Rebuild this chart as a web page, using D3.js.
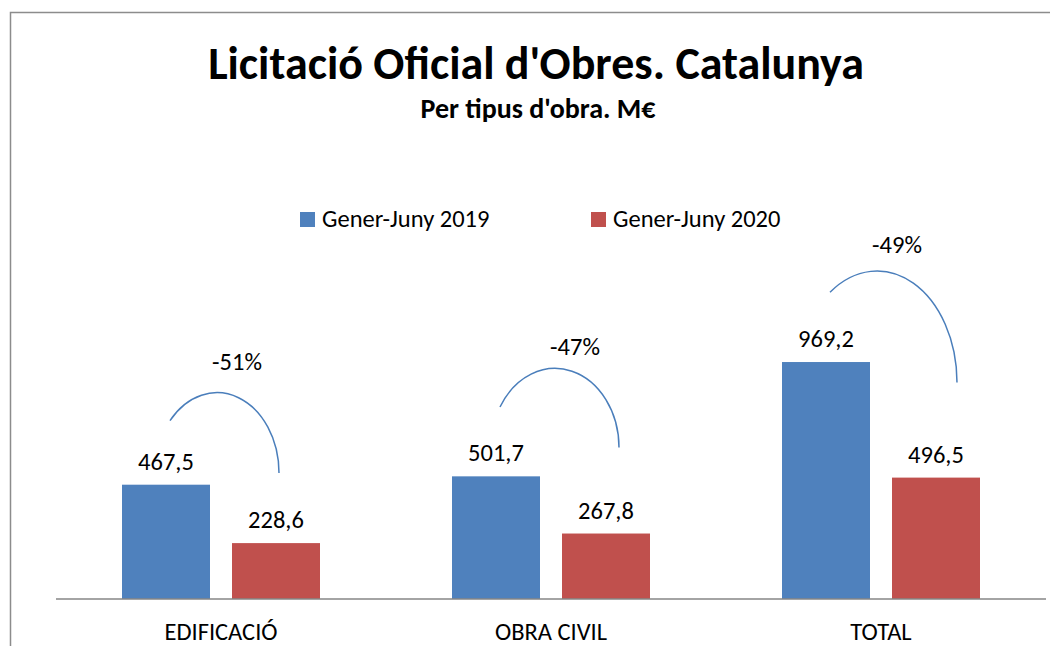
<!DOCTYPE html>
<html>
<head>
<meta charset="utf-8">
<script src="https://cdn.jsdelivr.net/npm/d3@7"></script>
<style>
  body { margin: 0; background: #fff; }
  svg text { font-family: Carlito, Calibri, Lato, sans-serif; fill: #000; }
</style>
</head>
<body>
<svg id="chart" width="1050" height="646"></svg>
<script>
// Data
const categories = ["EDIFICACIÓ", "OBRA CIVIL", "TOTAL"];
const seriesNames = ["Gener-Juny 2019", "Gener-Juny 2020"];
const values2019 = [467.5, 501.7, 969.2];
const values2020 = [228.6, 267.8, 496.5];
const changeLabels = ["-51%", "-47%", "-49%"];

const svg = d3.select("#chart");

const colors = {
    s2019: "#4F81BD",
    s2020: "#C0504D",
    arc: "#4A7EBB",
    axis: "#868686",
    frame: "#8C8C8C"
};

const fmt = v => d3.format(".1f")(v).replace(".", ",");

// chart frame (runs off the right/bottom edge like the screenshot)
svg.append("rect")
    .attr("x", 10.5).attr("y", 12.5)
    .attr("width", 1100).attr("height", 700)
    .attr("fill", "none")
    .attr("stroke", colors.frame)
    .attr("stroke-width", 1.5);

// titles
svg.append("text")
    .attr("x", 536).attr("y", 79)
    .attr("text-anchor", "middle")
    .style("font-weight", "bold")
    .style("font-size", "46px")
    .text("Licitació Oficial d'Obres. Catalunya");

svg.append("text")
    .attr("x", 538).attr("y", 118)
    .attr("text-anchor", "middle")
    .style("font-weight", "bold")
    .style("font-size", "28px")
    .text("Per tipus d'obra. M€");

// scales
const plot = { left: 56, right: 1046, bottom: 599 };

const x0 = d3.scaleBand().domain(categories).range([plot.left, plot.right]);
const x1 = d3.scaleBand().domain(seriesNames).range([0, x0.bandwidth()])
    .paddingInner(0.2).paddingOuter(0.6);
const y = d3.scaleLinear().domain([0, 1200]).range([plot.bottom, 305.6]);

const rows = categories.map((c, i) => ({
    cat: c,
    vals: [
        { key: seriesNames[0], v: values2019[i], color: colors.s2019 },
        { key: seriesNames[1], v: values2020[i], color: colors.s2020 }
    ]
}));

// bars
const groups = svg.selectAll(".grp").data(rows).enter().append("g")
    .attr("class", "grp")
    .attr("transform", d => `translate(${x0(d.cat)},0)`);

groups.selectAll("rect").data(d => d.vals).enter().append("rect")
    .attr("x", d => x1(d.key))
    .attr("y", d => y(d.v))
    .attr("width", x1.bandwidth())
    .attr("height", d => y(0) - y(d.v))
    .attr("fill", d => d.color);

groups.selectAll(".val").data(d => d.vals).enter().append("text")
    .attr("class", "val")
    .attr("x", d => x1(d.key) + x1.bandwidth() / 2)
    .attr("y", d => y(d.v) - 15)
    .attr("text-anchor", "middle")
    .style("font-size", "24.5px")
    .text(d => fmt(d.v));

// x axis
const xAxis = svg.append("g")
    .attr("transform", `translate(0,${plot.bottom})`)
    .call(d3.axisBottom(x0).tickSize(0).tickPadding(24));
xAxis.select(".domain").attr("stroke", colors.axis).attr("stroke-width", 1.5)
    .attr("d", `M${plot.left},0H${plot.right}`);
xAxis.selectAll("text")
    .style("font-family", "Carlito, Calibri, Lato, sans-serif")
    .style("font-size", "24.5px")
    .attr("fill", "#000");

// change arcs: quarter-ish ellipse from above the 2019 label to above the 2020 label
const arcShapes = [
    { dx: -4, top: 92, endDx: 3, end: 70, lab: 23 },
    { dx: 4, top: 108, endDx: 13, end: 86, lab: 13 },
    { dx: -4, top: 91, endDx: 21, end: 95, lab: 18 }
];
rows.forEach((r, i) => {
    const g0 = x0(r.cat);
    const blueC = g0 + x1(seriesNames[0]) + x1.bandwidth() / 2;
    const redC = g0 + x1(seriesNames[1]) + x1.bandwidth() / 2;
    const s = arcShapes[i];
    const cx = g0 + x0.bandwidth() / 2 + s.dx;
    const topY = y(values2019[i]) - s.top;
    const endX = redC + s.endDx;
    const endY = y(values2020[i]) - s.end;
    const rx = endX - cx, ry = endY - topY;
    const startX = blueC + 4;
    const t = (startX - cx) / rx;
    const startY = endY - ry * Math.sqrt(1 - t * t);
    svg.append("path")
        .attr("d", `M${startX},${startY}A${rx},${ry} 0 0 1 ${endX},${endY}`)
        .attr("fill", "none")
        .attr("stroke", colors.arc)
        .attr("stroke-width", 1.5);
    svg.append("text")
        .attr("x", cx + 20)
        .attr("y", topY - s.lab)
        .attr("text-anchor", "middle")
        .style("font-size", "24.5px")
        .text(changeLabels[i]);
});

// legend
const legendX = [300, 591];
const legend = svg.selectAll(".leg").data(seriesNames).enter().append("g")
    .attr("class", "leg")
    .attr("transform", (d, i) => `translate(${legendX[i]},212)`);
legend.append("rect")
    .attr("width", 15).attr("height", 15)
    .attr("fill", (d, i) => i === 0 ? colors.s2019 : colors.s2020);
legend.append("text")
    .attr("x", 22).attr("y", 15)
    .style("font-size", "24.5px")
    .text(d => d);
</script>
</body>
</html>
